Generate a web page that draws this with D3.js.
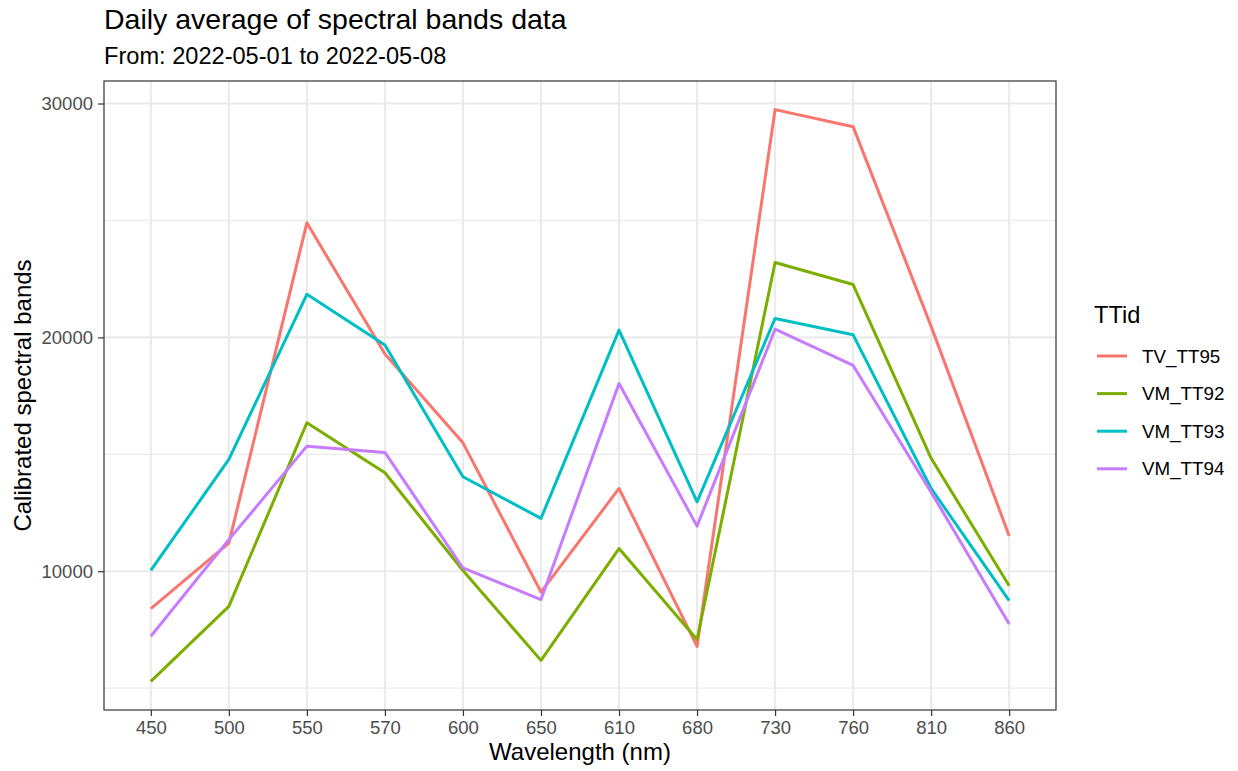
<!DOCTYPE html>
<html>
<head>
<meta charset="utf-8">
<script src="https://cdn.jsdelivr.net/npm/d3@7"></script>
<style>
  body { margin: 0; background: #fff; }
  text { font-family: "Liberation Sans", Arial, sans-serif; }
</style>
</head>
<body>
<svg id="chart" width="1238" height="771"></svg>
<script>
// wavelength bands, in the order they appear on the axis
var bands = ["450", "500", "550", "570", "600", "650", "610", "680", "730", "760", "810", "860"];

var seriesNames = ["TV_TT95", "VM_TT92", "VM_TT93", "VM_TT94"];
var seriesColors = ["#F8766D", "#7CAE00", "#00BFC4", "#C77CFF"];

var tv_tt95 = [8400, 11200, 24900, 19290, 15490, 9110, 13540, 6790, 29740, 29010, 20470, 11510];
var vm_tt92 = [5290, 8500, 16350, 14210, 10030, 6190, 10970, 7080, 23200, 22260, 14830, 9380];
var vm_tt93 = [10040, 14780, 21840, 19670, 14040, 12260, 20310, 12970, 20810, 20110, 13540, 8740];
var vm_tt94 = [7220, 11350, 15350, 15080, 10140, 8790, 18030, 11930, 20350, 18800, 13380, 7740];

var yMajor = [10000, 20000, 30000];
var yMinor = [5000, 15000, 25000];

var allValues = [tv_tt95, vm_tt92, vm_tt93, vm_tt94];
var series = seriesNames.map(function (name, i) {
    return { name: name, color: seriesColors[i], values: allValues[i] };
});

var svg = d3.select("#chart");
var pLeft = 104, pRight = 1056, pTop = 81, pBottom = 710;

// discrete x axis with ggplot's 0.6 unit padding on each side
var x = d3.scalePoint().domain(bands).range([pLeft, pRight]).padding(0.6);

var flat = d3.merge(allValues);
var lo = d3.min(flat), hi = d3.max(flat), pad = (hi - lo) * 0.05;
var y = d3.scaleLinear().domain([lo - pad, hi + pad]).range([pBottom, pTop]);

// grid
var grid = svg.append("g");
grid.selectAll(".minor").data(yMinor).enter().append("line")
    .attr("x1", pLeft).attr("x2", pRight)
    .attr("y1", function (d) { return y(d); }).attr("y2", function (d) { return y(d); })
    .attr("stroke", "#EBEBEB").attr("stroke-width", 1.2);
grid.selectAll(".major").data(yMajor).enter().append("line")
    .attr("x1", pLeft).attr("x2", pRight)
    .attr("y1", function (d) { return y(d); }).attr("y2", function (d) { return y(d); })
    .attr("stroke", "#EBEBEB").attr("stroke-width", 2.2);
grid.selectAll(".vmajor").data(bands).enter().append("line")
    .attr("y1", pTop).attr("y2", pBottom)
    .attr("x1", function (d) { return x(d); }).attr("x2", function (d) { return x(d); })
    .attr("stroke", "#EBEBEB").attr("stroke-width", 2.2);

// lines
var line = d3.line()
    .x(function (d, i) { return x(bands[i]); })
    .y(function (d) { return y(d); });

svg.append("g").selectAll("path").data(series).enter().append("path")
    .attr("d", function (d) { return line(d.values); })
    .attr("fill", "none")
    .attr("stroke", function (d) { return d.color; })
    .attr("stroke-width", 3)
    .attr("stroke-linejoin", "round");

// panel border
svg.append("rect")
    .attr("x", pLeft).attr("y", pTop)
    .attr("width", pRight - pLeft).attr("height", pBottom - pTop)
    .attr("fill", "none").attr("stroke", "#333333").attr("stroke-width", 1.2);

// axes
var xAxis = svg.append("g").attr("transform", "translate(0," + pBottom + ")")
    .call(d3.axisBottom(x).tickSize(6).tickPadding(5));
var yAxis = svg.append("g").attr("transform", "translate(" + pLeft + ",0)")
    .call(d3.axisLeft(y).tickValues(yMajor).tickSize(6).tickPadding(5).tickFormat(d3.format("d")));

[xAxis, yAxis].forEach(function (a) {
    a.select(".domain").remove();
    a.selectAll(".tick line").attr("stroke", "#333333").attr("stroke-width", 1.2);
    a.selectAll(".tick text").attr("fill", "#4D4D4D").style("font-size", "18.5px")
        .style("font-family", "'Liberation Sans', Arial, sans-serif");
});

// titles
svg.append("text").attr("x", 104).attr("y", 29)
    .style("font-size", "28.5px").attr("fill", "#000")
    .text("Daily average of spectral bands data");
svg.append("text").attr("x", 104).attr("y", 64)
    .style("font-size", "23.6px").attr("fill", "#000")
    .text("From: 2022-05-01 to 2022-05-08");

svg.append("text").attr("x", (pLeft + pRight) / 2).attr("y", 760)
    .attr("text-anchor", "middle").style("font-size", "24px")
    .text("Wavelength (nm)");
svg.append("text")
    .attr("transform", "translate(31," + (pTop + pBottom) / 2 + ") rotate(-90)")
    .attr("text-anchor", "middle").style("font-size", "24px")
    .text("Calibrated spectral bands");

// legend
var legend = svg.append("g");
legend.append("text").attr("x", 1094).attr("y", 323)
    .style("font-size", "23.6px").text("TTid");
var item = legend.selectAll(".item").data(series).enter().append("g")
    .attr("transform", function (d, i) { return "translate(0," + (356 + i * 37.6) + ")"; });
item.append("line").attr("x1", 1097).attr("x2", 1127)
    .attr("stroke", function (d) { return d.color; }).attr("stroke-width", 3);
item.append("text").attr("x", 1142).attr("y", 6.5)
    .style("font-size", "18.8px").attr("fill", "#000")
    .text(function (d) { return d.name; });
</script>
</body>
</html>
